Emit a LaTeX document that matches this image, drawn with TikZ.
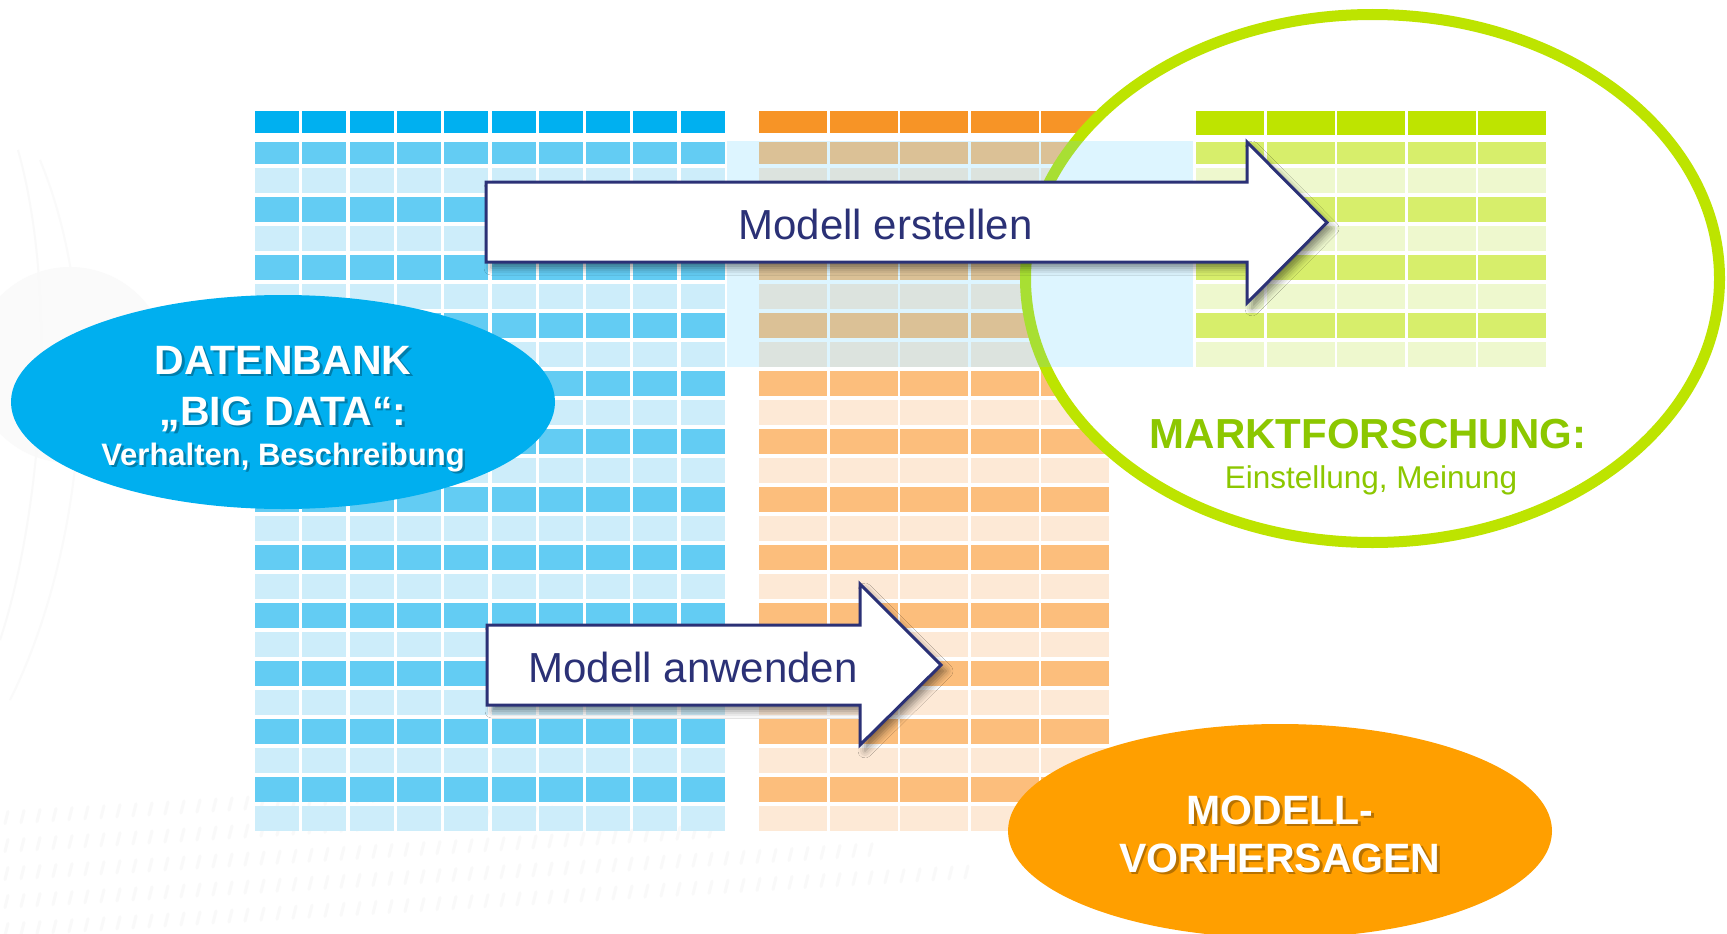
\documentclass[tikz,border=0pt]{standalone}
\usepackage{fontspec}
\setmainfont{Liberation Sans}
\usetikzlibrary{shapes.geometric,shadows.blur}

\definecolor{bluehead}{RGB}{0,176,240}
\definecolor{bluedark}{RGB}{99,204,243}
\definecolor{bluelight}{RGB}{205,237,250}
\definecolor{orangehead}{RGB}{247,148,38}
\definecolor{orangedark}{RGB}{252,190,124}
\definecolor{orangelight}{RGB}{253,233,214}
\definecolor{greenhead}{RGB}{190,228,0}
\definecolor{greendark}{RGB}{215,238,107}
\definecolor{greenlight}{RGB}{238,248,206}
\definecolor{ringgreen}{RGB}{189,228,0}
\definecolor{textgreen}{RGB}{140,199,0}
\definecolor{veilblue}{RGB}{88,206,255}
\definecolor{arrownavy}{RGB}{43,49,118}
\definecolor{dbblue}{RGB}{0,175,239}
\definecolor{predorange}{RGB}{255,159,0}

\begin{document}
\begin{tikzpicture}[x=1pt,y=-1pt,
  arrowshape/.style={fill=white, draw=arrownavy, line width=3pt, line join=miter,
    blur shadow={shadow xshift=5pt, shadow yshift=-6pt, shadow blur radius=7pt, shadow opacity=45}},
  arrowlabel/.style={inner sep=0pt, anchor=base, text=arrownavy, font=\fontsize{42pt}{50pt}\selectfont},
  bigtitle/.style={inner sep=0pt, anchor=base, text=white, font=\bfseries\fontsize{41pt}{49pt}\selectfont},
  subtitle/.style={inner sep=0pt, anchor=base, text=white, font=\bfseries\fontsize{31pt}{37pt}\selectfont},
  textshadow/.style={text=black, text opacity=0.28},
  blob/.style={ellipse, inner sep=0pt, minimum width=544pt, minimum height=214pt, fill=#1},
]
\useasboundingbox (0,0) rectangle (1727,934);
\fill[white] (0,0) rectangle (1727,934);

% faint background ornaments
\fill[gray!4] (70,365) circle[radius=98];
\draw[gray!5, line width=2pt] (18,150) .. controls (60,300) and (40,520) .. (0,640);
\draw[gray!4, line width=2pt] (40,160) .. controls (110,330) and (80,560) .. (10,700);
\foreach \row/\len in {0/420,1/560,2/720,3/880,4/980} {
  \foreach \k in {0,...,60} {
    \pgfmathsetmacro\dx{8+16*\k}
    \pgfmathsetmacro\dy{812+28*\row-0.06*\dx}
    \ifdim\dx pt<\len pt
      \draw[gray!5, line width=3pt, line cap=round] (\dx,\dy) -- ++(-3,12);
    \fi
  }
}

% blue table: header plus 24 rows, 10 columns
\foreach \c in {0,...,9} {
  \pgfmathsetmacro\xa{255+47.3*\c}
  \fill[bluehead] (\xa,111) rectangle ++(44,22);
  \foreach \r in {0,...,23} {
    \pgfmathsetmacro\ya{ifthenelse(\r==0,142,139+29*\r)}
    \pgfmathsetmacro\yb{164+29*\r}
    \pgfmathtruncatemacro\odd{mod(\r,2)}
    \ifnum\odd=0
      \fill[bluedark] (\xa,\ya) rectangle ++(44,\yb-\ya);
    \else
      \fill[bluelight] (\xa,\ya) rectangle ++(44,\yb-\ya);
    \fi
  }
}

% orange table: header plus 24 rows, 5 columns
\foreach \c in {0,...,4} {
  \pgfmathsetmacro\xa{759+70.5*\c}
  \fill[orangehead] (\xa,111) rectangle ++(68,22);
  \foreach \r in {0,...,23} {
    \pgfmathsetmacro\ya{ifthenelse(\r==0,142,139+29*\r)}
    \pgfmathsetmacro\yb{164+29*\r}
    \pgfmathtruncatemacro\odd{mod(\r,2)}
    \ifnum\odd=0
      \fill[orangedark] (\xa,\ya) rectangle ++(68,\yb-\ya);
    \else
      \fill[orangelight] (\xa,\ya) rectangle ++(68,\yb-\ya);
    \fi
  }
}

% market research ring
\node[ellipse, inner sep=0pt, minimum width=694pt, minimum height=528pt,
      fill=white, draw=ringgreen, line width=11pt] (ring) at (1372.5,278.5) {};

% green table: header plus 8 rows, 5 columns
\foreach \c in {0,...,4} {
  \pgfmathsetmacro\xa{1196+70.5*\c}
  \fill[greenhead] (\xa,111) rectangle ++(68,24);
  \foreach \r in {0,...,7} {
    \pgfmathsetmacro\ya{ifthenelse(\r==0,142,139+29*\r)}
    \pgfmathsetmacro\yb{164+29*\r}
    \pgfmathtruncatemacro\odd{mod(\r,2)}
    \ifnum\odd=0
      \fill[greendark] (\xa,\ya) rectangle ++(68,\yb-\ya);
    \else
      \fill[greenlight] (\xa,\ya) rectangle ++(68,\yb-\ya);
    \fi
  }
}

% light band joining the tables
\fill[veilblue, opacity=0.2] (727,141) rectangle (1193,367);

% block arrows
\draw[arrowshape] (486,182) -- (1247,182) -- (1247,142) -- (1327,222.5)
  -- (1247,303) -- (1247,262) -- (486,262) -- cycle;
\node[arrowlabel] (build) at (885.5,239) {Modell erstellen};

\draw[arrowshape] (487,625) -- (860,625) -- (860,584) -- (941,665)
  -- (860,745) -- (860,705) -- (487,705) -- cycle;
\node[arrowlabel] (apply) at (693,682) {Modell anwenden};

% market research labels
\node[inner sep=0pt, anchor=base, text=textgreen, font=\bfseries\fontsize{42pt}{50pt}\selectfont]
  (mf) at (1368,448) {MARKTFORSCHUNG:};
\node[inner sep=0pt, anchor=base, text=textgreen, font=\fontsize{31.5pt}{38pt}\selectfont]
  (mfsub) at (1371,488) {Einstellung, Meinung};

% database bubble
\node[blob=dbblue] (db) at (283,402) {};
\node[bigtitle, textshadow] (db1s) at (285.5,376.5) {DATENBANK};
\node[bigtitle] (db1) at (283,374) {DATENBANK};
\node[bigtitle, textshadow] (db2s) at (285.5,427.5) {„BIG DATA“:};
\node[bigtitle] (db2) at (283,425) {„BIG DATA“:};
\node[subtitle, textshadow] (db3s) at (285.5,467.5) {Verhalten, Beschreibung};
\node[subtitle] (db3) at (283,465) {Verhalten, Beschreibung};

% prediction bubble
\node[blob=predorange] (pred) at (1280,831) {};
\node[bigtitle, textshadow] (pr1s) at (1282.5,826.5) {MODELL-};
\node[bigtitle] (pr1) at (1280,824) {MODELL-};
\node[bigtitle, textshadow] (pr2s) at (1282.5,874.5) {VORHERSAGEN};
\node[bigtitle] (pr2) at (1280,872) {VORHERSAGEN};
\end{tikzpicture}
\end{document}
